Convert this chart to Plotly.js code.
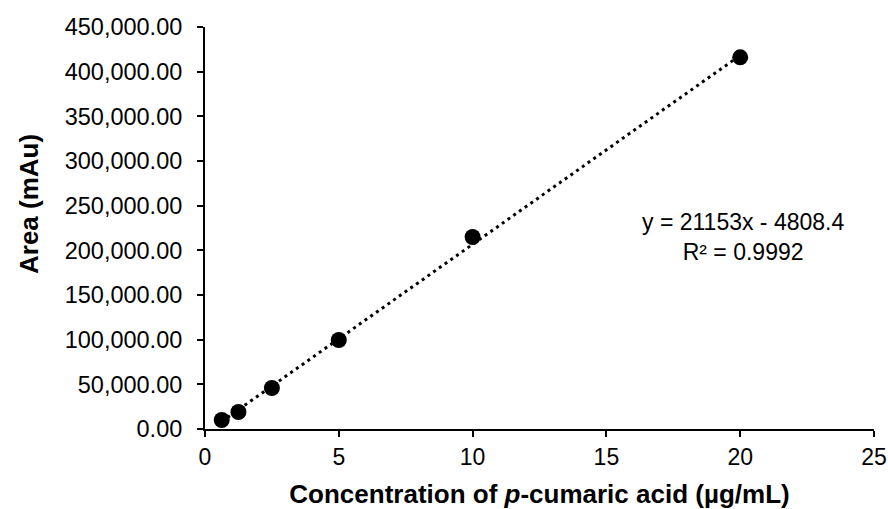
<!DOCTYPE html>
<html>
<head>
<meta charset="utf-8">
<script src="https://cdn.plot.ly/plotly-3.0.1.min.js"></script>
<style>html,body{margin:0;padding:0;background:#fff;}#chart{width:888px;height:509px;}</style>
</head>
<body>
<div id="chart"></div>
<script>
// Data
const concentration = [0.625, 1.25, 2.5, 5, 10, 20];
const area = [10100, 19000, 45900, 99600, 214900, 416000];
// Trendline coefficients shown on the chart
const slope = 21153;
const intercept = -4808.4;
const r2Label = "R² = 0.9992";
const eqLabel = "y = 21153x - 4808.4";
const yTitle = "Area (mAu)";
const xTitle = "Concentration of <i>p</i>-cumaric acid (µg/mL)";
const xTicks = [0, 5, 10, 15, 20, 25];
const yTicks = [0, 50000, 100000, 150000, 200000, 250000, 300000, 350000, 400000, 450000];

const xMin = Math.min(...concentration), xMax = Math.max(...concentration);
const trendX = [xMin, xMax];
const trendY = trendX.map(x => slope * x + intercept);

const font = "Liberation Sans, Arial, sans-serif";

const traces = [
  {x: trendX, y: trendY, mode: 'lines', type: 'scatter',
   line: {color: '#000', width: 3, dash: '3px,4px'}, hoverinfo: 'skip'},
  {x: concentration, y: area, mode: 'markers', type: 'scatter',
   marker: {color: '#000', size: 16}}
];

const M = {l: 205, r: 14, t: 27, b: 80};
const W = 888, H = 509;
const pw = W - M.l - M.r, ph = H - M.t - M.b;
const px2x = p => (p - M.l) / pw;
const px2y = p => 1 - (p - M.t) / ph;

const layout = {
  width: W, height: H,
  margin: M,
  paper_bgcolor: '#fff', plot_bgcolor: '#fff',
  showlegend: false,
  font: {family: font, color: '#000', size: 23},
  xaxis: {
    range: [0, 25], tickvals: xTicks, ticktext: xTicks.map(String),
    showgrid: false, zeroline: false, showline: true, linecolor: '#000', linewidth: 2,
    ticks: 'outside', ticklen: 6, tickwidth: 2, tickcolor: '#000',
    tickfont: {size: 23, family: font, color: '#000'},
    title: {text: xTitle, font: {size: 26, family: font, color: '#000', weight: 'bold'}, standoff: 16}
  },
  yaxis: {
    range: [0, 450000], tickvals: yTicks,
    ticktext: yTicks.map(v => v.toLocaleString('en-US', {minimumFractionDigits: 2, maximumFractionDigits: 2})),
    showgrid: false, zeroline: false, showline: true, linecolor: '#000', linewidth: 2,
    ticks: 'outside', ticklen: 6, tickwidth: 2, tickcolor: '#000', ticklabelstandoff: 10,
    tickfont: {size: 23.5, family: font, color: '#000'}
  },
  annotations: [
    {
      xref: 'paper', yref: 'paper', showarrow: false, xanchor: 'center', yanchor: 'middle',
      x: px2x(743), y: px2y(237),
      text: eqLabel + '<br>' + r2Label, align: 'center',
      font: {size: 23, family: font, color: '#000'}
    },
    {
      xref: 'paper', yref: 'paper', showarrow: false, xanchor: 'center', yanchor: 'middle',
      x: px2x(29), y: px2y(204), textangle: -90,
      text: yTitle,
      font: {size: 26, family: font, color: '#000', weight: 'bold'}
    }
  ]
};

Plotly.newPlot('chart', traces, layout, {staticPlot: true});
</script>
</body>
</html>
